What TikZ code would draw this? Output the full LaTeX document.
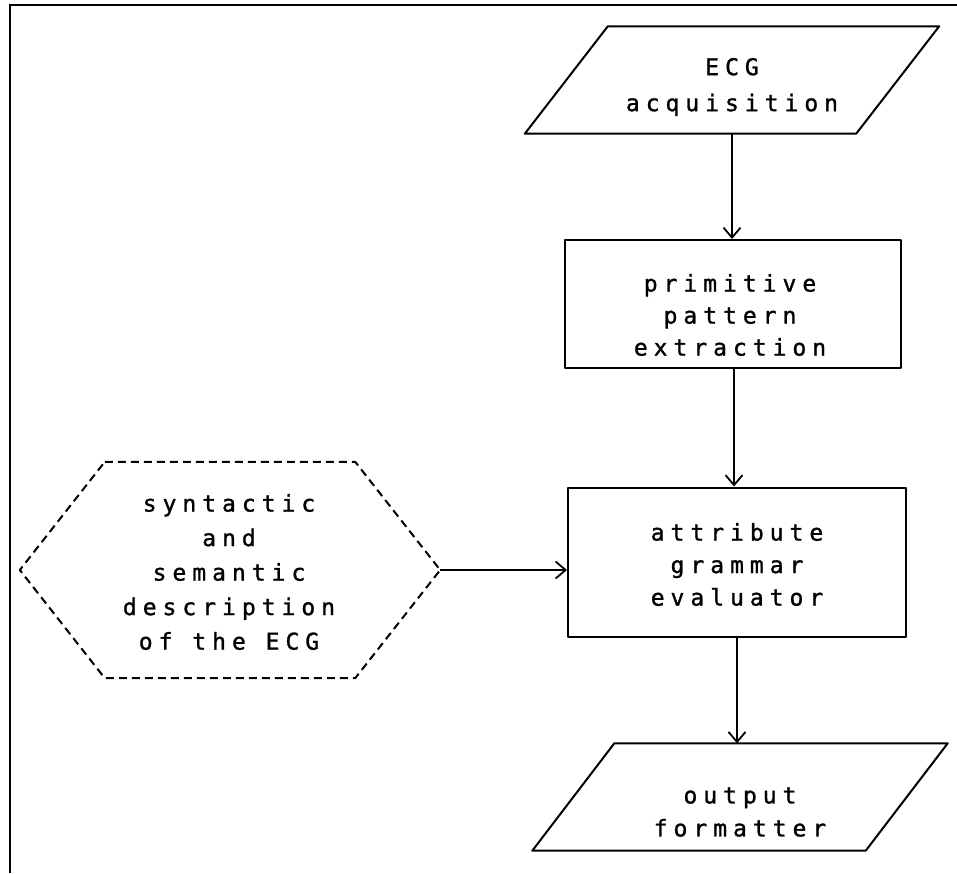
\documentclass[tikz,border=0pt]{standalone}
\usepackage{fontspec}
\newfontfamily\plotfont[LetterSpace=26,FakeBold=1.2]{DejaVu Sans Mono}
\usetikzlibrary{arrows.meta}
\tikzset{
  shapeline/.style={line width=2pt, line join=round},
  txt/.style={font=\plotfont\fontsize{23}{33}\selectfont, align=center, inner sep=0pt},
  boxnode/.style={draw, shapeline, minimum width=#1, inner sep=0pt},
  flow/.style={line width=1.8pt, -{Straight Barb[length=10pt,width=17pt,line width=1.8pt]}},
}
\begin{document}
\begin{tikzpicture}[x=1pt,y=-1pt]
\useasboundingbox (0,0) rectangle (957,873);
\fill[white] (0,0) rectangle (957,873);
% frame
\draw[line width=2.5pt] (957,5) -- (10,5) -- (10,873);

% ECG acquisition (parallelogram)
\node[minimum width=331pt, minimum height=107pt, inner sep=0pt] (acq) at (732,80) {};
\draw[shapeline] ([xshift=41.5pt]acq.north west) -- ([xshift=41.5pt]acq.north east)
  -- ([xshift=-41.5pt]acq.south east) -- ([xshift=-41.5pt]acq.south west) -- cycle;
\node[txt, font=\plotfont\fontsize{23}{36}\selectfont] (acqtext) at (732,87) {ECG\\acquisition};

% primitive pattern extraction
\node[boxnode=336pt, minimum height=128pt] (prim) at (733,304) {};
\node[txt, font=\plotfont\fontsize{23}{32}\selectfont] (primtext) at (730,315) {primitive\\pattern\\extraction};

% attribute grammar evaluator
\node[boxnode=338pt, minimum height=149pt] (attr) at (737,562) {};
\node[txt, font=\plotfont\fontsize{23}{32.5}\selectfont] (attrtext) at (737,564.5) {attribute\\grammar\\evaluator};

% output formatter (parallelogram)
\node[minimum width=333pt, minimum height=107pt, inner sep=0pt] (outf) at (740,797) {};
\draw[shapeline] ([xshift=41pt]outf.north west) -- ([xshift=41pt]outf.north east)
  -- ([xshift=-41pt]outf.south east) -- ([xshift=-41pt]outf.south west) -- cycle;
\node[txt] (outtext) at (740,812) {output\\formatter};

% hexagon
\node[minimum width=250pt, minimum height=216pt, inner sep=0pt] (hex) at (230,570) {};
\coordinate (hexR) at ([xshift=85pt]hex.east);
\coordinate (hexL) at ([xshift=-85pt]hex.west);
\draw[shapeline, dash pattern=on 8pt off 5pt] (hex.north west) -- (hex.north east) -- (hexR)
  -- (hex.south east) -- (hex.south west) -- (hexL) -- cycle;
\node[txt, font=\plotfont\fontsize{23}{34.5}\selectfont] (hextext) at (229,572) {syntactic\\and\\semantic\\description\\of the ECG};

% connectors
\draw[flow] (acq.south) -- (acq.south |- prim.north);
\draw[flow] ([xshift=1pt]prim.south) -- ([xshift=1pt]prim.south |- attr.north);
\draw[flow] (attr.south) -- (attr.south |- outf.north);
\draw[flow] (hexR) -- (attr.west |- hexR);
\end{tikzpicture}
\end{document}
